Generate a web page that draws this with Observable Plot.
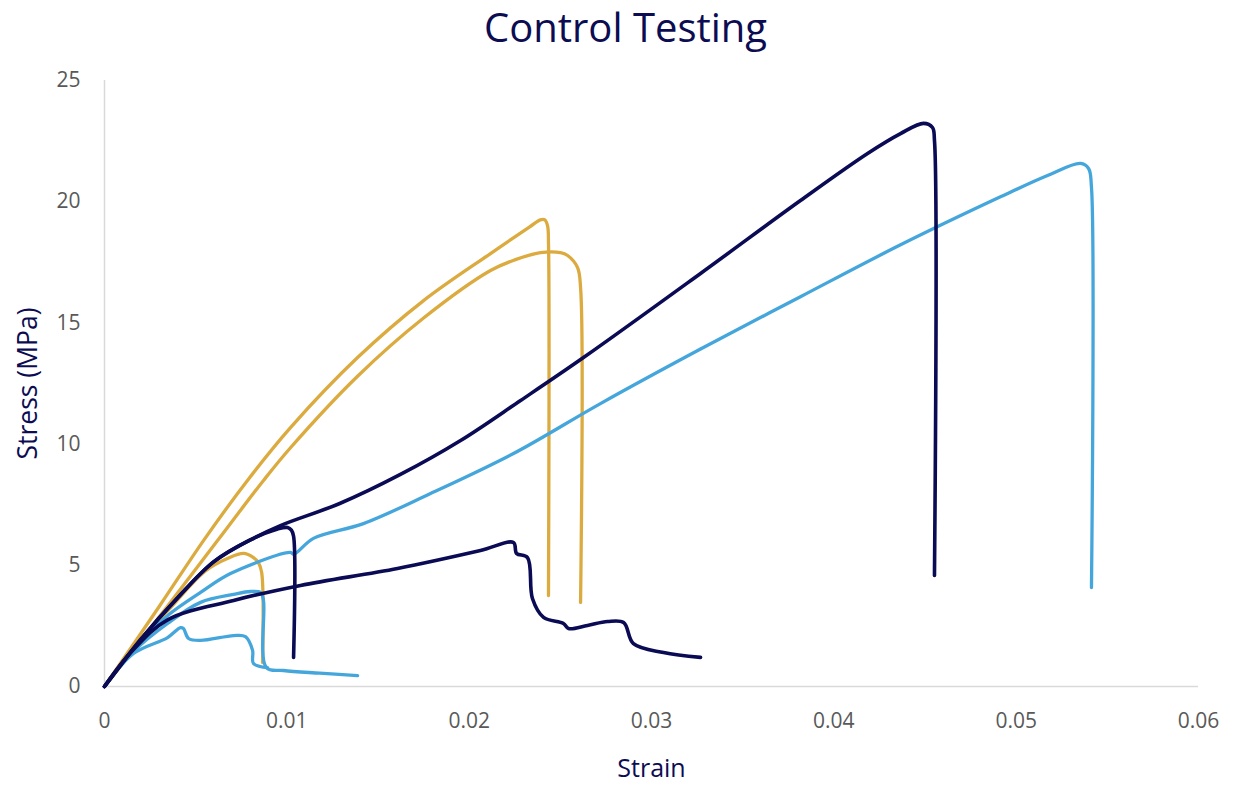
<!DOCTYPE html>
<html>
<head>
<meta charset="utf-8">
<script src="https://cdn.jsdelivr.net/npm/d3@7"></script>
<script src="https://cdn.jsdelivr.net/npm/@observablehq/plot@0.6"></script>
<style>
  body { margin: 0; background: #fff; }
  #wrap { position: relative; width: 1233px; height: 785px; }
  #title { position: absolute; top: -1px; left: 0; width: 1233px; text-align: center;
           font-family: "Open Sans", sans-serif; font-size: 40px; color: #0c0c52; padding-left: 18px; box-sizing: border-box; }
</style>
</head>
<body>
<div id="wrap"><div id="title">Control Testing</div><div id="chart"></div></div>
<script>
// ---- Data ----
const xTicks = [0, 0.01, 0.02, 0.03, 0.04, 0.05, 0.06];
const yTicks = [0, 5, 10, 15, 20, 25];

// Gold specimens
const goldHighStrain = [0, 0.003, 0.00543, 0.00784, 0.0102, 0.01388, 0.0175, 0.02117, 0.0233, 0.0239, 0.02415, 0.0243, 0.02435, 0.02435];
const goldHighStress = [0, 3.3, 6.02, 8.5, 10.68, 13.57, 15.92, 17.86, 18.95, 19.25, 19.25, 19.0, 18.3, 3.75];
const goldMidStrain = [0, 0.0034, 0.0062, 0.00872, 0.0102, 0.01388, 0.0175, 0.02117, 0.0225, 0.02391, 0.02501, 0.0254, 0.02594, 0.02611, 0.02611];
const goldMidStress = [0, 3.26, 6.02, 8.5, 9.85, 12.8, 15.2, 17.16, 17.6, 17.9, 17.9, 17.78, 17.29, 16.46, 3.47];
const goldLowStrain = [0, 0.002, 0.0035, 0.0055, 0.0068, 0.00762, 0.00817, 0.00845, 0.00862, 0.00867];
const goldLowStress = [0, 1.95, 3.15, 4.75, 5.3, 5.49, 5.32, 5.1, 4.7, 0.99];

// Light blue specimens
const blueHighStrain = [0, 0.002, 0.0035, 0.00527, 0.00691, 0.0102, 0.01037, 0.01146, 0.0142, 0.01788, 0.02243, 0.0272, 0.03269, 0.03817, 0.04366, 0.04914, 0.05172, 0.05353, 0.05397, 0.05413, 0.05413];
const blueHighStress = [0, 1.9, 2.95, 3.88, 4.66, 5.53, 5.45, 6.11, 6.72, 7.96, 9.61, 11.67, 13.92, 16.08, 18.22, 20.2, 21.08, 21.58, 21.37, 20.59, 4.08];
const blueMidStrain = [0, 0.0016, 0.00346, 0.00527, 0.00708, 0.0080, 0.00856, 0.00872, 0.00888, 0.00982, 0.0118, 0.01388];
const blueMidStress = [0, 1.45, 2.6, 3.47, 3.8, 3.92, 3.88, 3.55, 0.78, 0.66, 0.55, 0.45];
const blueLowStrain = [0, 0.00159, 0.00346, 0.00417, 0.00433, 0.00461, 0.00527, 0.00708, 0.00773, 0.00812, 0.00817, 0.00894];
const blueLowStress = [0, 1.36, 2.02, 2.43, 2.39, 1.98, 1.90, 2.10, 2.06, 1.49, 0.95, 0.78];

// Navy specimens
const navyHighStrain = [0, 0.002, 0.004, 0.006, 0.008, 0.00965, 0.0129, 0.01623, 0.01953, 0.02282, 0.02627, 0.03269, 0.03817, 0.04185, 0.04366, 0.04492, 0.04541, 0.04552, 0.04552];
const navyHighStress = [0, 1.95, 3.65, 5.15, 6.05, 6.64, 7.55, 8.75, 10.15, 11.8, 13.57, 17.04, 20.05, 21.99, 22.81, 23.23, 23.06, 22.52, 4.58];
const navyShortStrain = [0, 0.002, 0.004, 0.006, 0.008, 0.0095, 0.01004, 0.01025, 0.01037, 0.01037];
const navyShortStress = [0, 1.95, 3.65, 5.15, 6.05, 6.5, 6.56, 6.45, 6.2, 1.2];
const navyLowStrain = [0, 0.0015, 0.00346, 0.00708, 0.01075, 0.01607, 0.02062, 0.02243, 0.0226, 0.0232, 0.02347, 0.02408, 0.02517, 0.02545, 0.02649, 0.02759, 0.02847, 0.02901, 0.03066, 0.03269];
const navyLowStress = [0, 1.45, 2.75, 3.55, 4.17, 4.87, 5.61, 5.94, 5.49, 5.32, 3.63, 2.85, 2.60, 2.39, 2.52, 2.68, 2.64, 1.77, 1.40, 1.20];

const specimenNames = ["G1", "G2", "G3", "B1", "B2", "B3", "N1", "N2", "N3"];
const specimenGroups = ["gold", "gold", "gold", "blue", "blue", "blue", "navy", "navy", "navy"];
const groupColors = { gold: "#dcab3f", blue: "#45a6dc", navy: "#0a0a55" };

const strains = [goldHighStrain, goldMidStrain, goldLowStrain, blueHighStrain, blueMidStrain, blueLowStrain, navyHighStrain, navyShortStrain, navyLowStrain];
const stresses = [goldHighStress, goldMidStress, goldLowStress, blueHighStress, blueMidStress, blueLowStress, navyHighStress, navyShortStress, navyLowStress];

const rows = [];
specimenNames.forEach((name, i) => {
  strains[i].forEach((s, j) => rows.push({ name, group: specimenGroups[i], strain: s, stress: stresses[i][j] }));
});

const navy = "#0c0c52";
const font = "Open Sans, sans-serif";
const fmt = d => d === 0 ? "0" : String(+d.toFixed(2));
const lineOpts = { x: "strain", y: "stress", z: "name", curve: "catmull-rom", strokeLinejoin: "round", strokeLinecap: "round" };

const chart = Plot.plot({
  width: 1233,
  height: 785,
  marginLeft: 104,
  marginRight: 35,
  marginTop: 80,
  marginBottom: 99,
  style: { fontFamily: font, background: "#fff" },
  x: { domain: [0, 0.06], ticks: xTicks, tickFormat: fmt },
  y: { domain: [0, 25], ticks: yTicks },
  marks: [
    Plot.ruleX([0], { stroke: "#d9d9d9", strokeWidth: 1.5 }),
    Plot.ruleY([0], { stroke: "#d9d9d9", strokeWidth: 1.5 }),
    Plot.axisX({ ticks: xTicks, tickSize: 0, tickPadding: 27, fontSize: 21, fill: "#595959", label: null, tickFormat: fmt }),
    Plot.axisY({ ticks: yTicks, tickSize: 0, tickPadding: 24, fontSize: 21, fill: "#595959", label: null }),
    Plot.line(rows.filter(d => d.group !== "navy"), { ...lineOpts, stroke: d => groupColors[d.group], strokeWidth: 3.3 }),
    Plot.line(rows.filter(d => d.group === "navy"), { ...lineOpts, stroke: d => groupColors[d.group], strokeWidth: 3.6 }),
    Plot.text(["Strain"], { frameAnchor: "bottom", dy: 82, lineAnchor: "middle", fontSize: 25, fill: navy, fontFamily: font }),
    Plot.text(["Stress (MPa)"], { frameAnchor: "left", dx: -76, lineAnchor: "middle", textAnchor: "middle", rotate: -90, fontSize: 26.5, fill: navy, fontFamily: font })
  ]
});
document.getElementById("chart").appendChild(chart);
</script>
</body>
</html>
